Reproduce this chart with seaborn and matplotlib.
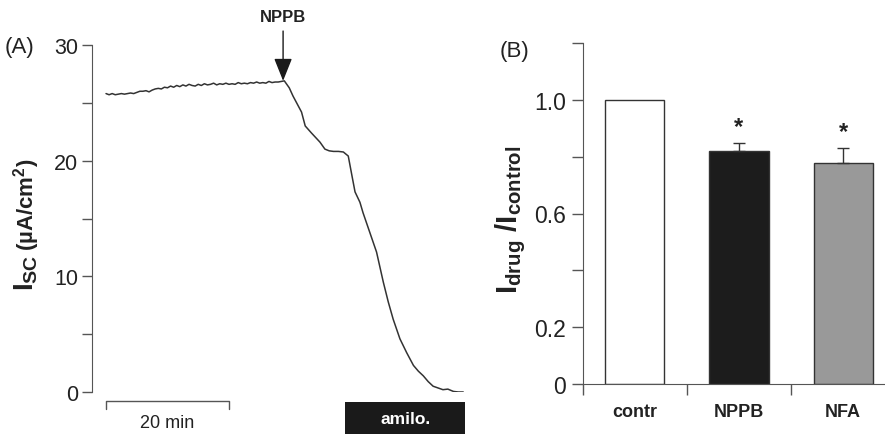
import matplotlib
matplotlib.use('Agg')
import matplotlib.pyplot as plt
import seaborn as sns
from matplotlib.patches import Rectangle

# --- panel A: short-circuit current trace (time in min, Isc in uA/cm2)
trace_time = [0.0, 0.5, 1.0, 1.5, 2.0, 2.5, 3.0, 3.5, 4.0, 4.5, 5.0, 5.5, 6.0, 6.5,
              7.0, 7.5, 8.0, 8.5, 9.0, 9.5, 10.0, 10.5, 11.0, 11.5, 12.0, 12.5, 13.0,
              13.5, 14.0, 14.5, 15.0, 15.5, 16.0, 16.5, 17.0, 17.5, 18.0, 18.5, 19.0,
              19.5, 20.0, 20.5, 21.0, 21.5, 22.0, 22.5, 23.0, 23.5, 24.0, 24.5, 25.0,
              25.5, 26.0, 26.5, 27.0, 27.5, 28.0, 28.5, 29.0,
              29.8, 30.4, 31.0, 31.8, 32.4, 32.9, 33.4, 34.1, 34.8, 35.6, 36.3, 37.0,
              37.8, 38.6, 39.4, 40.0, 40.5, 41.3, 41.8, 42.9, 44.0, 45.1, 45.9, 46.7,
              47.8, 48.9, 50.0, 50.8, 51.6, 52.4, 53.2, 54.0, 54.8, 55.6, 56.5, 57.3, 58.1]
trace_isc = [25.8, 25.7, 25.8, 25.7, 25.75, 25.8, 25.75, 25.8, 25.85, 25.8, 25.9, 26.0,
             26.0, 26.05, 25.95, 26.1, 26.2, 26.25, 26.2, 26.35, 26.3, 26.45, 26.35, 26.5,
             26.4, 26.55, 26.45, 26.6, 26.5, 26.45, 26.6, 26.5, 26.65, 26.55, 26.6, 26.7,
             26.55, 26.65, 26.6, 26.7, 26.6, 26.65, 26.6, 26.75, 26.65, 26.7, 26.65, 26.75,
             26.7, 26.8, 26.7, 26.75, 26.7, 26.85, 26.75, 26.8, 26.8, 26.85, 26.9,
             26.3, 25.6, 25.0, 24.2, 23.0, 22.7, 22.4, 22.0, 21.6, 21.0, 20.85, 20.8,
             20.8, 20.75, 20.4, 18.7, 17.3, 16.4, 15.5, 13.8, 12.1, 9.5, 7.8, 6.3,
             4.6, 3.4, 2.3, 1.8, 1.4, 0.9, 0.5, 0.35, 0.2, 0.25, 0.05, 0.0, 0.0]
nppb_time = 28.8
nppb_isc = 26.9
amilo_start = 38.9
amilo_end = 58.4
scale_min = 20

# --- panel B: normalised current
groups = ['contr', 'NPPB', 'NFA']
ratio = [1.0, 0.819, 0.779]
sem = [0.0, 0.030, 0.052]
bar_colors = {'contr': '#ffffff', 'NPPB': '#1c1c1c', 'NFA': '#999999'}
signif = ['', '*', '*']

sns.set_style('ticks')
plt.rcParams['font.family'] = ['Liberation Sans', 'DejaVu Sans']
plt.rcParams['mathtext.fontset'] = 'custom'
plt.rcParams['mathtext.rm'] = 'Liberation Sans'
plt.rcParams['mathtext.bf'] = 'Liberation Sans:bold'
plt.rcParams['mathtext.it'] = 'Liberation Sans:italic'

W, H = 885, 435
fig = plt.figure(figsize=(W / 100, H / 100), dpi=100)
axA = fig.add_axes([92 / W, 42 / H, 378 / W, 347 / H])
axB = fig.add_axes([582.7 / W, 50 / H, 312.6 / W, 341 / H])

spine_col = '#555555'
text_col = '#222222'

# ---------------- panel A
sns.lineplot(x=trace_time, y=trace_isc, estimator=None, color='#333333',
             linewidth=1.1, ax=axA)
axA.set_xlim(-2.28, 59.2)
axA.set_ylim(0, 30)
for s in ['top', 'right', 'bottom']:
    axA.spines[s].set_visible(False)
axA.spines['left'].set_color(spine_col)
axA.set_xticks([])
axA.set_yticks([0, 10, 20, 30])
axA.set_yticks([5, 15, 25], minor=True)
axA.tick_params(axis='y', which='both', direction='out', length=7, width=1,
                color=spine_col, labelsize=15.5, pad=3, labelcolor=text_col)
axA.set_xlabel('')
axA.set_ylabel('')

# NPPB arrow
axA.annotate('NPPB', xy=(nppb_time, nppb_isc), xytext=(nppb_time, 32.5),
             ha='center', va='center', fontsize=12, fontweight='bold', color=text_col,
             annotation_clip=False,
             arrowprops=dict(arrowstyle='-|>,head_length=1.0,head_width=0.4',
                             mutation_scale=14, color='#1a1a1a', lw=1, shrinkA=3, shrinkB=0))

# 20 min scale bar
axA.plot([0, 0, scale_min, scale_min], [-1.47, -0.78, -0.78, -1.47], color=spine_col,
         lw=1, clip_on=False)
axA.text(scale_min / 2, -2.6, '20 min', ha='center', va='center', fontsize=13,
         color=text_col, clip_on=False)

# amiloride box
axA.add_patch(Rectangle((amilo_start, -3.9), amilo_end - amilo_start, 3.04,
                        facecolor='#1a1a1a', edgecolor='none', clip_on=False))
axA.text((amilo_start + amilo_end) / 2, -2.3, 'amilo.', ha='center', va='center',
         fontsize=12.5, fontweight='bold', color='white', clip_on=False)

# ---------------- panel B
sns.barplot(x=groups, y=ratio, hue=groups, palette=bar_colors, legend=False,
            width=0.57, edgecolor='#333333', linewidth=1, ax=axB)
for i, g in enumerate(groups):
    if sem[i] > 0:
        axB.errorbar(i, ratio[i], yerr=[[0], [sem[i]]], fmt='none', ecolor='#333333',
                     elinewidth=1, capsize=4.5, capthick=1)
    if signif[i]:
        axB.text(i, ratio[i] + sem[i] + 0.035, signif[i], ha='center', va='baseline',
                 fontsize=17, fontweight='bold', color=text_col)

axB.set_xlim(-0.5, 2.5)
axB.set_ylim(0, 1.2)
for s in ['top', 'right']:
    axB.spines[s].set_visible(False)
for s in ['left', 'bottom']:
    axB.spines[s].set_color(spine_col)
axB.set_xticks([-0.5, 0.5, 1.5, 2.5])
axB.set_xticklabels([])
axB.set_xticks([0, 1, 2], minor=True)
axB.set_xticklabels(groups, minor=True, fontweight='bold', fontsize=13, color=text_col)
axB.tick_params(axis='x', which='major', direction='out', length=8, width=1, color=spine_col)
axB.tick_params(axis='x', which='minor', length=0, pad=14)
axB.set_yticks([0, 0.2, 0.6, 1.0])
axB.set_yticklabels(['0', '0.2', '0.6', '1.0'])
axB.set_yticks([0.4, 0.8, 1.2], minor=True)
axB.tick_params(axis='y', which='both', direction='out', length=8, width=1,
                color=spine_col, labelsize=16.5, pad=4, labelcolor=text_col)
axB.set_xlabel('')
axB.set_ylabel('')

# ---------------- labels
fig.text(33 / W, (H - 291) / H, r'$\mathbf{I_{SC}}$', rotation=90, rotation_mode='anchor',
         ha='left', va='baseline', fontsize=20, color=text_col)
fig.text(33 / W, (H - 251) / H, r'(µA/cm$^\mathbf{2}$)', rotation=90, rotation_mode='anchor',
         ha='left', va='baseline', fontsize=16, fontweight='bold', color=text_col)
fig.text(517 / W, (H - 294) / H, r'$\mathbf{I_{drug}}$ $\mathbf{/I_{control}}$', rotation=90,
         rotation_mode='anchor', ha='left', va='baseline', fontsize=21, color=text_col)
fig.text(5 / W, (H - 47) / H, '(A)', ha='left', va='center', fontsize=16, color=text_col)
fig.text(500 / W, (H - 52) / H, '(B)', ha='left', va='center', fontsize=16, color=text_col)

fig.savefig('out.png', dpi=100)
